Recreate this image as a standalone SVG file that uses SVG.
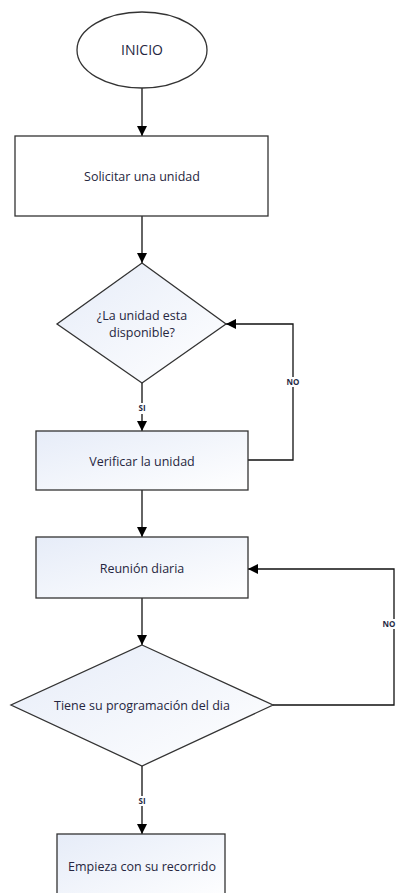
<svg xmlns="http://www.w3.org/2000/svg" width="398" height="893" viewBox="0 0 398 893">
  <defs>
    <linearGradient id="fillBlue" x1="0" y1="0" x2="1" y2="1">
      <stop offset="0" stop-color="#e6ecf8"/>
      <stop offset="1" stop-color="#ffffff"/>
    </linearGradient>
    <marker id="arrow" viewBox="0 0 10 10" refX="10" refY="5" markerWidth="10" markerHeight="10" markerUnits="userSpaceOnUse" orient="auto">
      <path d="M0,0 L10,5 L0,10 Z" fill="#000"/>
    </marker>
  </defs>
  <style>
    .shape { stroke: #333; stroke-width: 1.3; }
    .plain { fill: #ffffff; }
    .tint { fill: url(#fillBlue); }
    .label { font-family: "Open Sans", "Liberation Sans", sans-serif; font-size: 12.5px; fill: #262640; text-anchor: middle; }
    .edge { fill: none; stroke: #111; stroke-width: 1.3; }
    .tag { font-family: "Open Sans", "Liberation Sans", sans-serif; font-size: 8px; font-weight: bold; fill: #1f2a44; text-anchor: middle; }
  </style>
  <rect width="398" height="893" fill="#ffffff"/>

  <g id="connectors">
    <path class="edge" d="M142,88 V136" marker-end="url(#arrow)"/>
    <path class="edge" d="M142,216 V263" marker-end="url(#arrow)"/>
    <path class="edge" d="M142,383 V403 M142,414 V431" marker-end="url(#arrow)"/>
    <text class="tag" x="142" y="411">SI</text>
    <path class="edge" d="M248,460 H293 V387 M293,377 V324 H226" marker-end="url(#arrow)"/>
    <text class="tag" x="293" y="385">NO</text>
    <path class="edge" d="M142,490 V537" marker-end="url(#arrow)"/>
    <path class="edge" d="M142,598 V645" marker-end="url(#arrow)"/>
    <path class="edge" d="M273,705 H394 V629 M394,619 V569 H248" marker-end="url(#arrow)"/>
    <text class="tag" x="389" y="627">NO</text>
    <path class="edge" d="M142,766 V796 M142,806 V834" marker-end="url(#arrow)"/>
    <text class="tag" x="142" y="804">SI</text>
  </g>

  <g id="inicio">
    <ellipse class="shape plain" cx="142" cy="50" rx="65" ry="38"/>
    <text class="label" x="142" y="55" style="font-size:14px">INICIO</text>
  </g>

  <g id="solicitar">
    <rect class="shape plain" x="15" y="136" width="253" height="80"/>
    <text class="label" x="142" y="181">Solicitar una unidad</text>
  </g>

  <g id="disponible">
    <polygon class="shape tint" points="142,263 226,324 142,383 57,324"/>
    <text class="label" x="142" y="320">¿La unidad esta</text>
    <text class="label" x="142" y="337">disponible?</text>
  </g>

  <g id="verificar">
    <rect class="shape tint" x="36" y="431" width="212" height="59"/>
    <text class="label" x="142" y="466">Verificar la unidad</text>
  </g>

  <g id="reunion">
    <rect class="shape tint" x="36" y="537" width="212" height="61"/>
    <text class="label" x="142" y="573">Reunión diaria</text>
  </g>

  <g id="programacion">
    <polygon class="shape tint" points="142,645 273,705 142,766 11,705"/>
    <text class="label" x="142" y="710">Tiene su programación del dia</text>
  </g>

  <g id="recorrido">
    <rect class="shape tint" x="57" y="834" width="168" height="70"/>
    <text class="label" x="142" y="871">Empieza con su recorrido</text>
  </g>
</svg>
